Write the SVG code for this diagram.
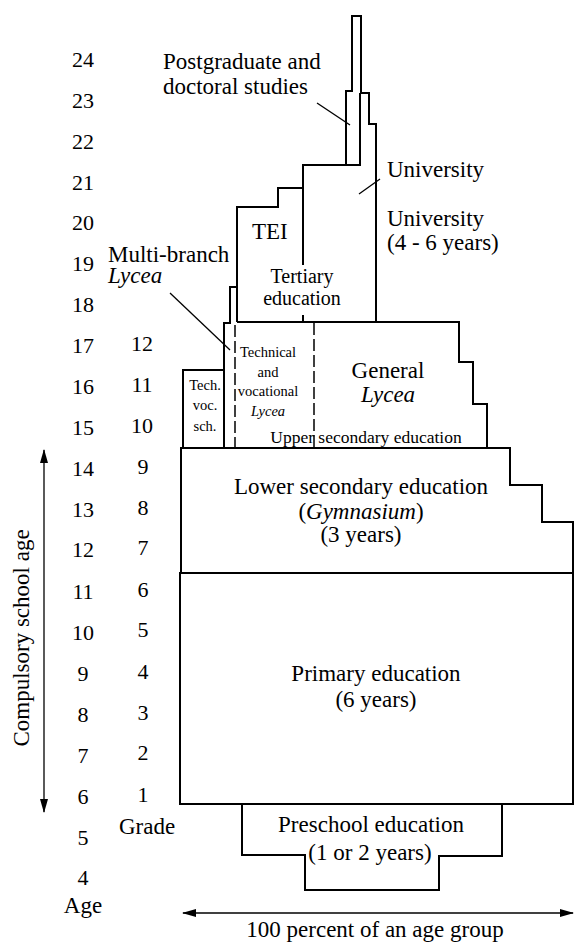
<svg xmlns="http://www.w3.org/2000/svg" width="574" height="942" viewBox="0 0 574 942">
<style>
text{font-family:"Liberation Serif","Times New Roman",serif;fill:#000}
.m{font-size:23px}
.s{font-size:20px}
.xs{font-size:14.5px}
.u{font-size:17.5px}
.c{text-anchor:middle}
.n{font-size:22px;text-anchor:middle}
.i{font-style:italic}
.o{fill:none;stroke:#000;stroke-width:2;stroke-linejoin:miter}
.t{fill:none;stroke:#000;stroke-width:1.3}
.d{fill:none;stroke:#000;stroke-width:1.5;stroke-dasharray:12 4}
</style>
<defs>
<marker id="ah" viewBox="0 0 14 8" refX="13" refY="4" markerWidth="14" markerHeight="8" markerUnits="userSpaceOnUse" orient="auto-start-reverse">
<path d="M0,0 L14,4 L0,8 Z" fill="#000"/>
</marker>
</defs>
<rect width="574" height="942" fill="#fff"/>

<g id="primary">
<rect class="o" x="180" y="573" width="393" height="231"/>
<text class="m c" x="376" y="681">Primary education</text>
<text class="m c" x="376" y="707">(6 years)</text>
</g>

<g id="lower-secondary">
<path class="o" d="M181,573 V448 H510 V485 H542 V522 H573 V573"/>
<text class="m c" x="361" y="494">Lower secondary education</text>
<text class="m c" x="361" y="519">(<tspan class="i">Gymnasium</tspan>)</text>
<text class="m c" x="361" y="542">(3 years)</text>
</g>

<g id="preschool">
<path class="o" d="M242,804 V855 H305 V890 H439 V856 H502 V804"/>
<text class="m c" x="371" y="832">Preschool education</text>
<text class="m c" x="370" y="860">(1 or 2 years)</text>
</g>

<g id="upper-secondary">
<path class="o" d="M183,448 V370 H224 V323 H230 V287 H237 V207 H278 V188 H303 V165 H346 V91 H352 V16 H361 V93 H369 V124 H376 V322 H459 V362 H473 V404 H487 V448"/>
<path class="o" d="M224,370 V448 M237,287 V322 M237,322 H376"/>
<path class="d" d="M235,325 V448 M314,323 V448"/>
<text class="u c" x="366" y="443">Upper secondary education</text>
</g>

<g id="tech-voc-sch">
<text class="xs c" x="205" y="390">Tech.</text>
<text class="xs c" x="205" y="410">voc.</text>
<text class="xs c" x="205" y="431">sch.</text>
</g>

<g id="tech-voc-lycea">
<text class="xs c" x="268" y="357">Technical</text>
<text class="xs c" x="268" y="377">and</text>
<text class="xs c" x="268" y="396">vocational</text>
<text class="xs c i" x="268" y="416">Lycea</text>
</g>

<g id="general-lycea">
<text class="m c" x="388" y="378">General</text>
<text class="m c i" x="388" y="402">Lycea</text>
</g>

<g id="multi-branch">
<text class="m" x="108" y="262">Multi-branch</text>
<text class="m i" x="108" y="283">Lycea</text>
</g>

<g id="tertiary">
<path class="o" d="M303,165 V265 M303,315 V322 M346,165 H360 V93"/>
<text class="s c" x="302" y="283">Tertiary</text>
<text class="s c" x="302" y="305">education</text>
</g>

<g id="tei">
<text class="m" x="252" y="239">TEI</text>
</g>

<g id="university">
<text class="m" x="387" y="177">University</text>
<text class="m" x="387" y="226">University</text>
<text class="m" x="387" y="250">(4 - 6 years)</text>
</g>

<g id="postgraduate">
<text class="m" x="163" y="69">Postgraduate and</text>
<text class="m" x="163" y="94">doctoral studies</text>
</g>

<g id="connectors">
<line class="t" x1="317" y1="103" x2="350" y2="125"/>
<line class="t" x1="380" y1="179" x2="359" y2="194"/>
<line class="t" x1="170" y1="293" x2="230" y2="350"/>
<line class="t" x1="44" y1="450" x2="44" y2="812" marker-start="url(#ah)" marker-end="url(#ah)"/>
<line class="t" x1="183" y1="913" x2="573" y2="913" marker-start="url(#ah)" marker-end="url(#ah)"/>
</g>

<g id="axes">
<text class="m c" transform="translate(29,638) rotate(-90)">Compulsory school age</text>
<text class="n" x="83" y="67">24</text>
<text class="n" x="83" y="108">23</text>
<text class="n" x="83" y="149">22</text>
<text class="n" x="83" y="190">21</text>
<text class="n" x="83" y="230">20</text>
<text class="n" x="83" y="271">19</text>
<text class="n" x="83" y="312">18</text>
<text class="n" x="83" y="353">17</text>
<text class="n" x="83" y="394">16</text>
<text class="n" x="83" y="435">15</text>
<text class="n" x="83" y="476">14</text>
<text class="n" x="83" y="517">13</text>
<text class="n" x="83" y="557">12</text>
<text class="n" x="83" y="599">11</text>
<text class="n" x="83" y="640">10</text>
<text class="n" x="83" y="681">9</text>
<text class="n" x="83" y="722">8</text>
<text class="n" x="83" y="763">7</text>
<text class="n" x="83" y="804">6</text>
<text class="n" x="83" y="845">5</text>
<text class="n" x="83" y="885">4</text>
<text class="m c" x="83" y="913">Age</text>
<text class="n" x="142" y="351">12</text>
<text class="n" x="142" y="392">11</text>
<text class="n" x="142" y="433">10</text>
<text class="n" x="143" y="474">9</text>
<text class="n" x="143" y="515">8</text>
<text class="n" x="143" y="555">7</text>
<text class="n" x="143" y="597">6</text>
<text class="n" x="143" y="637">5</text>
<text class="n" x="143" y="679">4</text>
<text class="n" x="143" y="720">3</text>
<text class="n" x="143" y="760">2</text>
<text class="n" x="143" y="802">1</text>
<text class="m c" x="147" y="834">Grade</text>
<text class="m c" x="375" y="937">100 percent of an age group</text>
</g>
</svg>
